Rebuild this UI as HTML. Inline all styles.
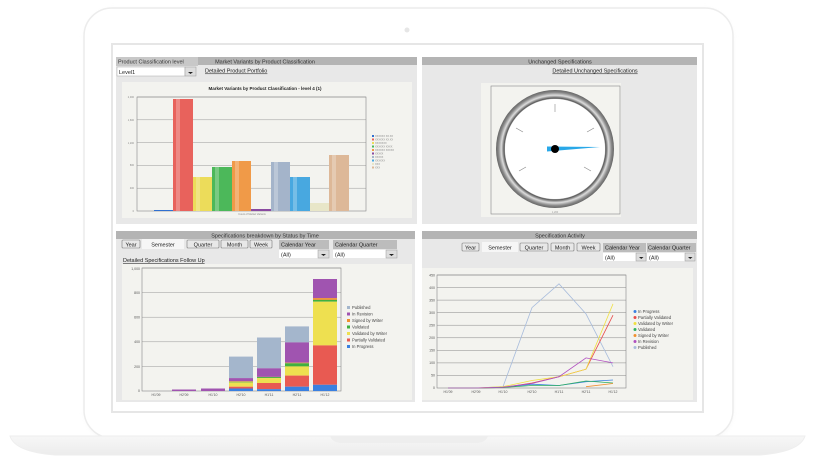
<!DOCTYPE html>
<html><head><meta charset="utf-8"><style>
html,body{margin:0;padding:0;background:#fff;}
svg{display:block;font-family:"Liberation Sans",sans-serif;}
</style></head><body>
<svg width="814" height="468" viewBox="0 0 814 468" xmlns="http://www.w3.org/2000/svg">
<defs>
<filter id="sh" x="-5%" y="-5%" width="110%" height="115%"><feGaussianBlur stdDeviation="3"/></filter>
<radialGradient id="ring" cx="50%" cy="50%" r="50%">
<stop offset="84%" stop-color="#fff"/><stop offset="86%" stop-color="#555"/><stop offset="91%" stop-color="#ddd"/><stop offset="96%" stop-color="#888"/><stop offset="100%" stop-color="#666"/>
</radialGradient>
<linearGradient id="base" x1="0" y1="0" x2="0" y2="1"><stop offset="0" stop-color="#f7f7f7"/><stop offset="1" stop-color="#ececec"/></linearGradient>
</defs>
<!-- laptop -->
<rect x="86" y="10" width="646" height="430" rx="28" fill="#eee" filter="url(#sh)" opacity="0.6"/>
<rect x="84" y="8" width="649" height="430" rx="28" fill="#fff" stroke="#ececec" stroke-width="1.5"/>
<circle cx="407" cy="30" r="2.5" fill="#e6e6e6"/>
<rect x="112" y="44" width="591" height="368" fill="#fff" stroke="#e6e6e6" stroke-width="2"/>
<path d="M10 436 H805 Q800 452 760 455 H55 Q15 452 10 436Z" fill="url(#base)" stroke="#eee"/>
<path d="M330 436 H488 Q486 442 478 443 H340 Q332 442 330 436Z" fill="#eee"/>

<!-- panels -->
<rect x="116" y="57" width="301" height="167" fill="#e8e8e8"/>
<rect x="422" y="57" width="275" height="167" fill="#e8e8e8"/>
<rect x="116" y="231" width="299" height="171" fill="#e8e8e8"/>
<rect x="422" y="231" width="275" height="171" fill="#e8e8e8"/>
<rect x="116" y="57" width="301" height="8" fill="#b4b4b4"/>
<rect x="422" y="57" width="275" height="8" fill="#b4b4b4"/>
<rect x="116" y="231" width="299" height="8" fill="#b4b4b4"/>
<rect x="422" y="231" width="275" height="8" fill="#b4b4b4"/>
<g font-size="5.5" fill="#333" text-anchor="middle">
<text x="265" y="63.5">Market Variants by Product Classification</text>
<text x="560" y="63.5">Unchanged Specifications</text>
<text x="265" y="237.5">Specifications breakdown by Status by Time</text>
<text x="560" y="237.5">Specification Activity</text>
</g>

<!-- top-left -->
<rect x="116" y="57" width="82" height="9" fill="#c8c8c8"/>
<text x="118" y="63.5" font-size="5.5" fill="#333">Product Classification level</text>
<rect x="117" y="67" width="68" height="9" fill="#fff" stroke="#aaa" stroke-width=".5"/>
<text x="119" y="74" font-size="5.5" fill="#222">Level1</text>
<rect x="185" y="67" width="11" height="9" fill="#ddd" stroke="#999" stroke-width=".5"/>
<path d="M188 72 h5 l-2.5 2z" fill="#222"/>
<text x="205" y="72.5" font-size="5.5" fill="#222" text-decoration="underline">Detailed Product Portfolio</text>
<rect x="122" y="82" width="290" height="136" fill="#f3f3ef"/>
<text x="265" y="90" font-size="4.5" font-weight="bold" text-anchor="middle" fill="#222">Market Variants by Product Classification - level 4 (1)</text>
<g stroke="#999" stroke-width=".5">
<line x1="137" y1="97" x2="366" y2="97"/><line x1="137" y1="119.8" x2="366" y2="119.8"/><line x1="137" y1="142.6" x2="366" y2="142.6"/><line x1="137" y1="165.4" x2="366" y2="165.4"/><line x1="137" y1="188.2" x2="366" y2="188.2"/>
</g>
<rect x="137" y="97" width="229" height="114" fill="none" stroke="#888" stroke-width=".6"/>
<g font-size="2.5" fill="#888" text-anchor="end">
<text x="134" y="98">2,000</text><text x="134" y="121">1,600</text><text x="134" y="144">1,200</text><text x="134" y="166">800</text><text x="134" y="189">400</text><text x="134" y="212">0</text>
</g>
<rect x="154" y="210" width="19" height="1" fill="#3070d0"/>
<rect x="173" y="99" width="20" height="112" fill="#e8625c"/>
<rect x="193" y="177" width="19" height="34" fill="#ecdc5a"/>
<rect x="212" y="167" width="20" height="44" fill="#4cb85a"/>
<rect x="232" y="161" width="19" height="50" fill="#f09a48"/>
<rect x="251" y="209" width="20" height="2" fill="#8a4aa0"/>
<rect x="271" y="162" width="19" height="49" fill="#a4b4ca"/>
<rect x="290" y="177" width="20" height="34" fill="#48a8e0"/>
<rect x="310" y="203" width="19" height="8" fill="#e8e6c8"/>
<rect x="329" y="155" width="20" height="56" fill="#ddb898"/>
<g opacity=".25" fill="#fff"><rect x="176" y="99" width="4" height="112"/><rect x="196" y="177" width="4" height="34"/><rect x="215" y="167" width="4" height="44"/><rect x="235" y="161" width="4" height="50"/><rect x="274" y="162" width="4" height="49"/><rect x="293" y="177" width="4" height="34"/><rect x="332" y="155" width="4" height="56"/></g>
<text x="252" y="215" font-size="2.5" fill="#888" text-anchor="middle">Count of Market Variants</text>
<g font-size="2.5" fill="#888">
<rect x="372" y="135" width="2" height="2" fill="#3070d0"/><text x="375" y="137">XXXXXX XX.XX</text>
<rect x="372" y="138.5" width="2" height="2" fill="#e8625c"/><text x="375" y="140.5">XXXXXX XX.XX</text>
<rect x="372" y="142" width="2" height="2" fill="#ecdc5a"/><text x="375" y="144">XXXXXXX</text>
<rect x="372" y="145.5" width="2" height="2" fill="#4cb85a"/><text x="375" y="147.5">XXXXXX XXXX</text>
<rect x="372" y="149" width="2" height="2" fill="#f09a48"/><text x="375" y="151">XXXXXX XXXXX</text>
<rect x="372" y="152.5" width="2" height="2" fill="#8a4aa0"/><text x="375" y="154.5">XXXXX</text>
<rect x="372" y="156" width="2" height="2" fill="#a4b4ca"/><text x="375" y="158">XXXXX</text>
<rect x="372" y="159.5" width="2" height="2" fill="#48a8e0"/><text x="375" y="161.5">XXXXXX</text>
<rect x="372" y="163" width="2" height="2" fill="#e8e6c8"/><text x="375" y="165">XXX</text>
<rect x="372" y="166.5" width="2" height="2" fill="#ddb898"/><text x="375" y="168.5">XXX</text>
</g>

<!-- gauge -->
<text x="595" y="72.5" font-size="5.5" fill="#222" text-anchor="middle" text-decoration="underline">Detailed Unchanged Specifications</text>
<rect x="481" y="83" width="140" height="134" fill="#f3f3ef"/>
<rect x="491" y="86" width="129" height="128" fill="none" stroke="#888" stroke-width=".6"/>
<circle cx="555" cy="149" r="59" fill="url(#ring)"/>
<circle cx="555" cy="149" r="50" fill="#fff"/>
<g stroke="#888" stroke-width=".6">
<line x1="555" y1="104" x2="555" y2="112"/>
<line x1="516" y1="128" x2="523" y2="132"/>
<line x1="594" y1="128" x2="587" y2="132"/>
<line x1="519" y1="171" x2="526" y2="167"/>
<line x1="591" y1="171" x2="584" y2="167"/>
</g>
<path d="M547 146.5 L600 147 L547 151.5Z" fill="#29a8e8"/>
<circle cx="555" cy="149" r="4" fill="#000"/>
<text x="555" y="213" font-size="2.5" fill="#999" text-anchor="middle">1,200</text>

<!-- buttons left -->
<g font-size="5.5" fill="#222">
<rect x="122" y="240" width="18" height="8" fill="#e8e8e8" stroke="#777" stroke-width=".6" rx="1"/><text x="131" y="246.5" text-anchor="middle">Year</text>
<rect x="142" y="239" width="42" height="10" fill="#f6f6f6"/><text x="163" y="246.5" text-anchor="middle">Semester</text>
<rect x="187" y="240" width="32" height="8" fill="#e8e8e8" stroke="#777" stroke-width=".6" rx="1"/><text x="203" y="246.5" text-anchor="middle">Quarter</text>
<rect x="221" y="240" width="27" height="8" fill="#e8e8e8" stroke="#777" stroke-width=".6" rx="1"/><text x="234.5" y="246.5" text-anchor="middle">Month</text>
<rect x="250" y="240" width="22" height="8" fill="#e8e8e8" stroke="#777" stroke-width=".6" rx="1"/><text x="261" y="246.5" text-anchor="middle">Week</text>
<rect x="279" y="240" width="50" height="9" fill="#bcbcbc"/><text x="281" y="246.5">Calendar Year</text>
<rect x="333" y="240" width="64" height="9" fill="#bcbcbc"/><text x="335" y="246.5">Calendar Quarter</text>
<rect x="279" y="250" width="39" height="8" fill="#fff"/><text x="281" y="256.5">(All)</text>
<rect x="318" y="250" width="11" height="8" fill="#ddd" stroke="#999" stroke-width=".5"/><path d="M321 254 h5 l-2.5 2z" fill="#222"/>
<rect x="333" y="250" width="53" height="8" fill="#fff"/><text x="335" y="256.5">(All)</text>
<rect x="386" y="250" width="11" height="8" fill="#ddd" stroke="#999" stroke-width=".5"/><path d="M389 254 h5 l-2.5 2z" fill="#222"/>
<text x="123" y="262" text-decoration="underline">Detailed Specifications Follow Up</text>
</g>
<rect x="122" y="264" width="290" height="136" fill="#f3f3ef"/>
<g stroke="#999" stroke-width=".5">
<line x1="142" y1="268" x2="341" y2="268"/><line x1="142" y1="292.6" x2="341" y2="292.6"/><line x1="142" y1="317.2" x2="341" y2="317.2"/><line x1="142" y1="341.8" x2="341" y2="341.8"/><line x1="142" y1="366.4" x2="341" y2="366.4"/>
</g>
<rect x="142" y="268" width="199" height="123" fill="none" stroke="#888" stroke-width=".6"/>
<g font-size="3.5" fill="#555" text-anchor="end">
<text x="140" y="270">1,000</text><text x="140" y="294">800</text><text x="140" y="318.5">600</text><text x="140" y="343">400</text><text x="140" y="368">200</text><text x="140" y="392">0</text>
</g>
<g font-size="3.5" fill="#555" text-anchor="middle">
<text x="156" y="396">H1'09</text><text x="184" y="396">H2'09</text><text x="213" y="396">H1'10</text><text x="241" y="396">H2'10</text><text x="269" y="396">H1'11</text><text x="297" y="396">H2'11</text><text x="325" y="396">H1'12</text>
</g>
<rect x="172" y="389.5" width="24" height="1.5" fill="#a054b0"/>
<rect x="201" y="388.5" width="24" height="2.5" fill="#a054b0"/>
<!-- H2'10 -->
<g>
<rect x="229" y="356.6" width="24" height="21.5" fill="#a4b6cc"/>
<rect x="229" y="378.1" width="24" height="3.1" fill="#a054b0"/>
<rect x="229" y="381.2" width="24" height="0.6" fill="#f09030"/>
<rect x="229" y="381.8" width="24" height="0.6" fill="#40b040"/>
<rect x="229" y="382.4" width="24" height="4.3" fill="#eee050"/>
<rect x="229" y="386.7" width="24" height="1.8" fill="#e85a52"/>
<rect x="229" y="388.5" width="24" height="2.5" fill="#3a80e0"/>
</g>
<g>
<rect x="257" y="337.5" width="24" height="30.8" fill="#a4b6cc"/>
<rect x="257" y="368.3" width="24" height="8.6" fill="#a054b0"/>
<rect x="257" y="376.9" width="24" height="0.3" fill="#f09030"/>
<rect x="257" y="377.1" width="24" height="1" fill="#40b040"/>
<rect x="257" y="378.1" width="24" height="4.9" fill="#eee050"/>
<rect x="257" y="383" width="24" height="6.2" fill="#e85a52"/>
<rect x="257" y="389.2" width="24" height="1.8" fill="#3a80e0"/>
</g>
<g>
<rect x="285" y="326.4" width="24" height="16" fill="#a4b6cc"/>
<rect x="285" y="342.4" width="24" height="20.3" fill="#a054b0"/>
<rect x="285" y="362.7" width="24" height="0.6" fill="#f09030"/>
<rect x="285" y="363.3" width="24" height="3.1" fill="#40b040"/>
<rect x="285" y="366.4" width="24" height="9.2" fill="#eee050"/>
<rect x="285" y="375.6" width="24" height="11.1" fill="#e85a52"/>
<rect x="285" y="386.7" width="24" height="4.3" fill="#3a80e0"/>
</g>
<g>
<rect x="313" y="279" width="24" height="19.1" fill="#a054b0"/>
<rect x="313" y="298.1" width="24" height="1.8" fill="#f09030"/>
<rect x="313" y="299.9" width="24" height="1.8" fill="#40b040"/>
<rect x="313" y="301.7" width="24" height="43.7" fill="#eee050"/>
<rect x="313" y="345.4" width="24" height="39.4" fill="#e85a52"/>
<rect x="313" y="384.8" width="24" height="6.2" fill="#3a80e0"/>
</g>
<g font-size="4.2" fill="#444">
<rect x="347" y="306" width="3" height="3" fill="#a4b6cc"/><text x="352" y="309">Published</text>
<rect x="347" y="312.5" width="3" height="3" fill="#a054b0"/><text x="352" y="315.5">In Revision</text>
<rect x="347" y="319" width="3" height="3" fill="#f09030"/><text x="352" y="322">Signed by Writer</text>
<rect x="347" y="325.5" width="3" height="3" fill="#40b040"/><text x="352" y="328.5">Validated</text>
<rect x="347" y="332" width="3" height="3" fill="#eee050"/><text x="352" y="335">Validated by Writer</text>
<rect x="347" y="338.5" width="3" height="3" fill="#e85a52"/><text x="352" y="341.5">Partially Validated</text>
<rect x="347" y="345" width="3" height="3" fill="#3a80e0"/><text x="352" y="348">In Progress</text>
</g>

<!-- buttons right -->
<g font-size="5.5" fill="#222">
<rect x="462" y="243" width="17" height="8" fill="#e8e8e8" stroke="#777" stroke-width=".6" rx="1"/><text x="470.5" y="249.5" text-anchor="middle">Year</text>
<rect x="482" y="242" width="36" height="10" fill="#f6f6f6"/><text x="500" y="249.5" text-anchor="middle">Semester</text>
<rect x="520" y="243" width="28" height="8" fill="#e8e8e8" stroke="#777" stroke-width=".6" rx="1"/><text x="534" y="249.5" text-anchor="middle">Quarter</text>
<rect x="551" y="243" width="23" height="8" fill="#e8e8e8" stroke="#777" stroke-width=".6" rx="1"/><text x="562.5" y="249.5" text-anchor="middle">Month</text>
<rect x="577" y="243" width="23" height="8" fill="#e8e8e8" stroke="#777" stroke-width=".6" rx="1"/><text x="588.5" y="249.5" text-anchor="middle">Week</text>
<rect x="603" y="243" width="43" height="9" fill="#bcbcbc"/><text x="605" y="249.5">Calendar Year</text>
<rect x="647" y="243" width="49" height="9" fill="#bcbcbc"/><text x="648" y="249.5">Calendar Quarter</text>
<rect x="603" y="253" width="33" height="8" fill="#fff"/><text x="605" y="259.5">(All)</text>
<rect x="636" y="253" width="10" height="8" fill="#ddd" stroke="#999" stroke-width=".5"/><path d="M639 257 h4.5 l-2.25 2z" fill="#222"/>
<rect x="647" y="253" width="38" height="8" fill="#fff"/><text x="649" y="259.5">(All)</text>
<rect x="685" y="253" width="10" height="8" fill="#ddd" stroke="#999" stroke-width=".5"/><path d="M688 257 h4.5 l-2.25 2z" fill="#222"/>
</g>
<rect x="422" y="268" width="271" height="132" fill="#f3f3ef"/>
<g stroke="#888" stroke-width=".5">
<line x1="437" y1="275" x2="626" y2="275"/><line x1="437" y1="287.6" x2="626" y2="287.6"/><line x1="437" y1="300.1" x2="626" y2="300.1"/><line x1="437" y1="312.7" x2="626" y2="312.7"/><line x1="437" y1="325.2" x2="626" y2="325.2"/><line x1="437" y1="337.8" x2="626" y2="337.8"/><line x1="437" y1="350.3" x2="626" y2="350.3"/><line x1="437" y1="362.9" x2="626" y2="362.9"/><line x1="437" y1="375.4" x2="626" y2="375.4"/>
</g>
<rect x="437" y="275" width="189" height="113" fill="none" stroke="#888" stroke-width=".6"/>
<g font-size="3.5" fill="#555" text-anchor="end">
<text x="435" y="276.5">450</text><text x="435" y="289">400</text><text x="435" y="301.5">350</text><text x="435" y="314">300</text><text x="435" y="326.5">250</text><text x="435" y="339">200</text><text x="435" y="351.5">150</text><text x="435" y="364">100</text><text x="435" y="376.5">50</text><text x="435" y="389">0</text>
</g>
<g font-size="3.5" fill="#555" text-anchor="middle">
<text x="448" y="393">H1'09</text><text x="476" y="393">H2'09</text><text x="503" y="393">H1'10</text><text x="532" y="393">H2'10</text><text x="559" y="393">H1'11</text><text x="586" y="393">H2'11</text><text x="613" y="393">H1'12</text>
</g>
<g fill="none" stroke-width=".8">
<polyline points="448,388 476,388 503,386.7 532,307.6 559,283.8 586,313.9 613,366.7" stroke="#a8bcdc"/>
<polyline points="448,388 476,388 503,387.5 532,384.2 559,385.5 586,381.7 613,380" stroke="#3a80e0"/>
<polyline points="448,388 476,388 503,387.5 532,383 559,376.7 586,369.2 613,315.2" stroke="#e84a4a"/>
<polyline points="448,388 476,388 503,386.7 532,380.5 559,376.7 586,369.2 613,303.9" stroke="#f0e040"/>
<polyline points="448,388 476,388 503,387.5 532,385.5 559,385.5 586,381 613,383" stroke="#30b060"/>
<polyline points="586,386.7 613,383.5" stroke="#f09030"/>
<polyline points="448,388 476,388 503,387.2 532,383.5 559,376.7 586,357.9 613,362.9" stroke="#b050c0"/>
</g>
<g font-size="4.2" fill="#444">
<circle cx="635" cy="311.5" r="1.5" fill="#3a80e0"/><text x="638" y="313">In Progress</text>
<circle cx="635" cy="317.5" r="1.5" fill="#e84a4a"/><text x="638" y="319">Partially Validated</text>
<circle cx="635" cy="323.5" r="1.5" fill="#f0e040"/><text x="638" y="325">Validated by Writer</text>
<circle cx="635" cy="329.5" r="1.5" fill="#30b060"/><text x="638" y="331">Validated</text>
<circle cx="635" cy="335.5" r="1.5" fill="#f09030"/><text x="638" y="337">Signed by Writer</text>
<circle cx="635" cy="341.5" r="1.5" fill="#b050c0"/><text x="638" y="343">In Revision</text>
<circle cx="635" cy="347.5" r="1.5" fill="#a8bcdc"/><text x="638" y="349">Published</text>
</g>
</svg>
</body></html>
